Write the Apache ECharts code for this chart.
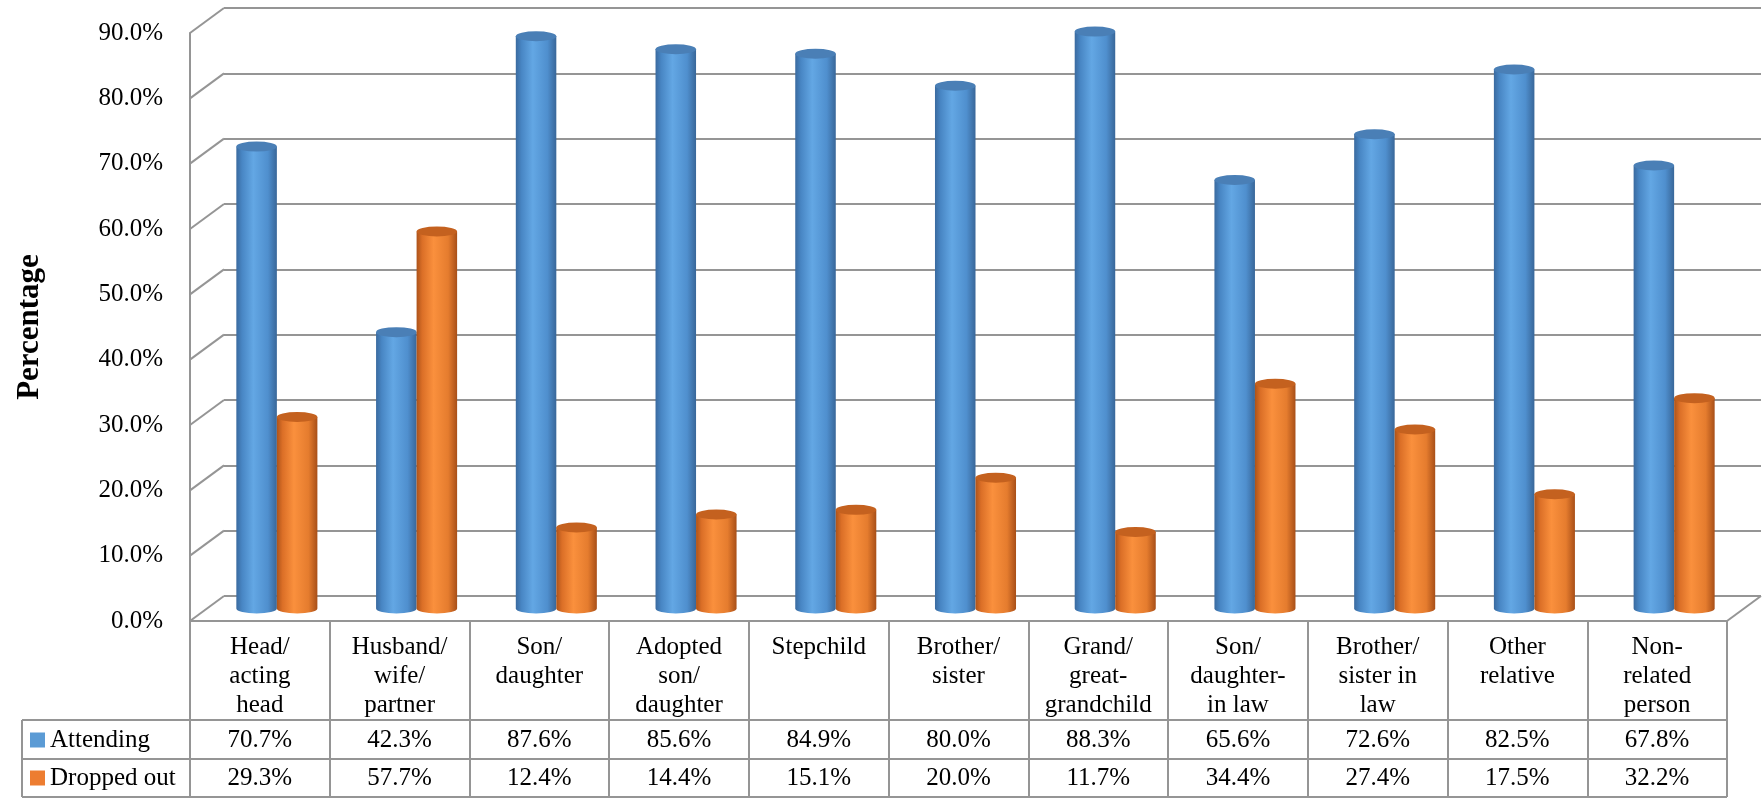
<!DOCTYPE html>
<html>
<head>
<meta charset="utf-8">
<script src="https://cdn.jsdelivr.net/npm/echarts@6/dist/echarts.min.js"></script>
<style>
  html, body { margin: 0; padding: 0; background: #ffffff; }
  #chart { width: 1762px; height: 798px; }
</style>
</head>
<body>
<div id="chart"></div>
<script>
// ---- data ----
const categories = [
  'Head/\nacting\nhead', 'Husband/\nwife/\npartner', 'Son/\ndaughter',
  'Adopted\nson/\ndaughter', 'Stepchild', 'Brother/\nsister',
  'Grand/\ngreat-\ngrandchild', 'Son/\ndaughter-\nin law', 'Brother/\nsister in\nlaw',
  'Other\nrelative', 'Non-\nrelated\nperson'
];
const attending  = [70.7, 42.3, 87.6, 85.6, 84.9, 80.0, 88.3, 65.6, 72.6, 82.5, 67.8];
const droppedOut = [29.3, 57.7, 12.4, 14.4, 15.1, 20.0, 11.7, 34.4, 27.4, 17.5, 32.2];
const seriesNames = ['Attending', 'Dropped out'];
const yTicks = [0, 10, 20, 30, 40, 50, 60, 70, 80, 90];

// ---- layout ----
const FONT = '"Liberation Serif", "Times New Roman", serif';
const LINE = '#959595';
const SERIES_COLORS = ['#5b9bd5', '#ed7d31'];
const PLOT_LEFT = 190, PLOT_TOP = 33, PLOT_W = 1537, PLOT_H = 588;
const FLOOR_Y = PLOT_TOP + PLOT_H;
const DEPTH_X = 34, DEPTH_Y = 25;            // offset from front plane to back wall
const TABLE_LEFT = 22;
const ROWS = [119, 157];                     // value-row centres below the floor edge
const ROW_LINES = [99, 138, 176];            // horizontal rules below the floor edge

const chart = echarts.init(document.getElementById('chart'), null, { renderer: 'canvas' });

// cylinder painter
const palettes = [
  { stops: ['#3a6a9f', '#4886c4', '#63a7e4', '#4f8fce', '#396799'], top: '#4a7fb6' },
  { stops: ['#ad531a', '#db6f27', '#fa903d', '#e57c2e', '#a84f18'], top: '#c4611f' }
];
function cylinderItem(seriesIdx) {
  return function (params, api) {
    const i = api.value(0), v = api.value(1);
    const base = api.coord([i, 0]);
    const top = api.coord([i, v]);
    const band = api.size([1, 0])[0];
    const r = band * 0.145;
    const ry = 5;
    const cx = base[0] + (seriesIdx === 0 ? -r : r);
    const L = cx - r, R = cx + r;
    const pal = palettes[seriesIdx];
    const grad = new echarts.graphic.LinearGradient(0, 0, 1, 0, [
      { offset: 0, color: pal.stops[0] },
      { offset: 0.14, color: pal.stops[1] },
      { offset: 0.42, color: pal.stops[2] },
      { offset: 0.78, color: pal.stops[3] },
      { offset: 1, color: pal.stops[4] }
    ]);
    return {
      type: 'group',
      children: [
        {
          type: 'path',
          shape: {
            pathData: `M ${L} ${top[1]} L ${L} ${base[1]} A ${r} ${ry} 0 0 0 ${R} ${base[1]} L ${R} ${top[1]} Z`
          },
          style: { fill: grad }
        },
        {
          type: 'path',
          shape: {
            pathData: `M ${L} ${top[1]} A ${r} ${ry} 0 1 0 ${R} ${top[1]} A ${r} ${ry} 0 1 0 ${L} ${top[1]} Z`
          },
          style: { fill: pal.top }
        }
      ]
    };
  };
}

// table rules, left border and row keys
const tableGraphics = [
  ...ROW_LINES.map(dy => ({
    type: 'line', z: 10,
    shape: { x1: TABLE_LEFT, y1: FLOOR_Y + dy, x2: PLOT_LEFT + PLOT_W, y2: FLOOR_Y + dy },
    style: { stroke: LINE, lineWidth: 2 }
  })),
  {
    type: 'line', z: 10,
    shape: { x1: TABLE_LEFT, y1: FLOOR_Y + ROW_LINES[0], x2: TABLE_LEFT, y2: FLOOR_Y + ROW_LINES[2] },
    style: { stroke: LINE, lineWidth: 2 }
  },
  ...seriesNames.flatMap((name, k) => [
    {
      type: 'rect', z: 10,
      shape: { x: TABLE_LEFT + 8, y: FLOOR_Y + ROWS[k] - 7.5, width: 15, height: 15 },
      style: { fill: SERIES_COLORS[k] }
    },
    {
      type: 'text', z: 10,
      style: {
        text: name, x: TABLE_LEFT + 28, y: FLOOR_Y + ROWS[k],
        textAlign: 'left', textVerticalAlign: 'middle',
        font: '25px ' + FONT, fill: '#000'
      }
    }
  ])
];

const option = {
  backgroundColor: '#ffffff',
  animation: false,
  textStyle: { fontFamily: FONT },
  grid: [
    // front plane: value labels + table header
    { left: PLOT_LEFT, top: PLOT_TOP, width: PLOT_W, height: PLOT_H },
    // mid depth: cylinders
    { left: PLOT_LEFT + DEPTH_X / 2, top: PLOT_TOP - DEPTH_Y / 2, width: PLOT_W, height: PLOT_H },
    // back wall
    { left: PLOT_LEFT + DEPTH_X, top: PLOT_TOP - DEPTH_Y, width: PLOT_W, height: PLOT_H }
  ],
  xAxis: [
    {
      gridIndex: 0, type: 'category', data: categories, boundaryGap: true,
      axisLine: { show: true, lineStyle: { color: LINE, width: 2 } },
      axisTick: { show: true, interval: 0, length: ROW_LINES[2], lineStyle: { color: LINE, width: 2 } },
      axisLabel: {
        interval: 0, margin: 12, color: '#000', fontFamily: FONT, fontSize: 25, lineHeight: 29
      },
      splitLine: { show: false }
    },
    { gridIndex: 1, type: 'category', data: categories, boundaryGap: true, show: false },
    {
      gridIndex: 2, type: 'value', min: 0, max: 1,
      axisLine: { show: false }, axisTick: { show: false }, axisLabel: { show: false }, splitLine: { show: false }
    }
  ],
  yAxis: [
    {
      gridIndex: 0, type: 'value', min: 0, max: 90, interval: 10,
      name: 'Percentage', nameLocation: 'middle', nameRotate: 90, nameGap: 145,
      nameTextStyle: { fontFamily: FONT, fontSize: 31, fontWeight: 'bold', color: '#000' },
      axisLine: { show: true, lineStyle: { color: LINE, width: 2 } },
      axisTick: { show: false },
      axisLabel: {
        margin: 27, color: '#000', fontFamily: FONT, fontSize: 25,
        formatter: v => v.toFixed(1) + '%'
      },
      splitLine: { show: false }
    },
    { gridIndex: 1, type: 'value', min: 0, max: 90, interval: 10, show: false },
    {
      gridIndex: 2, type: 'value', min: 0, max: 90, interval: 10,
      axisLine: { show: false }, axisTick: { show: false }, axisLabel: { show: false },
      splitLine: { show: true, lineStyle: { color: LINE, width: 2 } }
    }
  ],
  graphic: tableGraphics,
  series: [
    // side-wall and floor diagonals at each tick
    {
      type: 'custom', xAxisIndex: 0, yAxisIndex: 0, silent: true, z: 1,
      data: yTicks.map(t => [0, t]),
      encode: { x: 0, y: 1 },
      renderItem: function (params, api) {
        const cs = params.coordSys;
        const y = api.coord([0, api.value(1)])[1];
        const children = [{
          type: 'line',
          shape: { x1: cs.x, y1: y, x2: cs.x + DEPTH_X, y2: y - DEPTH_Y },
          style: { stroke: LINE, lineWidth: 2 }
        }];
        if (api.value(1) === 0) {
          children.push({
            type: 'line',
            shape: { x1: cs.x + cs.width, y1: y, x2: cs.x + cs.width + DEPTH_X, y2: y - DEPTH_Y },
            style: { stroke: LINE, lineWidth: 2 }
          });
        }
        return { type: 'group', children };
      }
    },
    {
      name: seriesNames[0], type: 'custom', xAxisIndex: 1, yAxisIndex: 1, z: 5,
      itemStyle: { color: SERIES_COLORS[0] },
      data: attending.map((v, i) => [i, v]),
      encode: { x: 0, y: 1 },
      renderItem: cylinderItem(0)
    },
    {
      name: seriesNames[1], type: 'custom', xAxisIndex: 1, yAxisIndex: 1, z: 6,
      itemStyle: { color: SERIES_COLORS[1] },
      data: droppedOut.map((v, i) => [i, v]),
      encode: { x: 0, y: 1 },
      renderItem: cylinderItem(1)
    },
    // data table value rows
    {
      type: 'custom', xAxisIndex: 0, yAxisIndex: 0, silent: true, z: 10,
      data: attending.map((v, i) => [i, v, droppedOut[i]]),
      encode: { x: 0 },
      renderItem: function (params, api) {
        const cs = params.coordSys;
        const x = api.coord([api.value(0), 0])[0];
        const floor = cs.y + cs.height;
        const txt = (val, y) => ({
          type: 'text',
          style: {
            text: val.toFixed(1) + '%', x: x, y: y,
            textAlign: 'center', textVerticalAlign: 'middle',
            font: '25px ' + FONT, fill: '#000'
          }
        });
        return {
          type: 'group',
          children: [txt(api.value(1), floor + ROWS[0]), txt(api.value(2), floor + ROWS[1])]
        };
      }
    }
  ]
};
chart.setOption(option);
</script>
</body>
</html>
